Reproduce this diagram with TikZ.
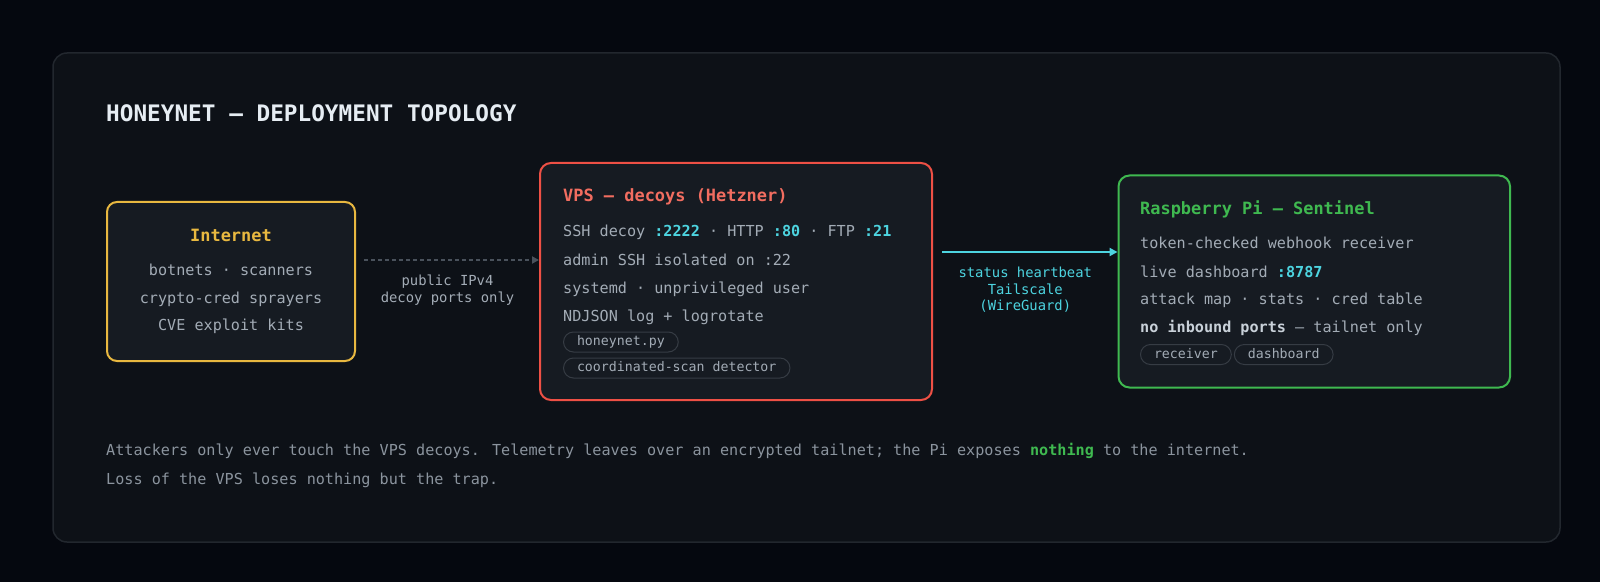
\documentclass[tikz,border=0pt]{standalone}
\usepackage{fontspec}
\setmainfont{DejaVu Sans Mono}
\usepackage{tikz}
\usetikzlibrary{arrows.meta,positioning}

\definecolor{bgc}{HTML}{05080F}
\definecolor{panelfill}{HTML}{0D1117}
\definecolor{panelline}{HTML}{22272E}
\definecolor{boxfill}{HTML}{161B22}
\definecolor{headc}{HTML}{E6EDF3}
\definecolor{inetc}{HTML}{E8B840}
\definecolor{vpsc}{HTML}{EE5045}
\definecolor{vpstitle}{HTML}{F26D60}
\definecolor{pic}{HTML}{3FB950}
\definecolor{cyanc}{HTML}{4DD4E0}
\definecolor{textc}{HTML}{A3ACB6}
\definecolor{strongc}{HTML}{C9D1D9}
\definecolor{notec}{HTML}{8B949E}
\definecolor{pillc}{HTML}{363C44}
\definecolor{dashc}{HTML}{4A525C}

\newcommand{\port}[1]{\textbf{\color{cyanc}#1}}

\begin{document}
\begin{tikzpicture}[x=1bp,y=-1bp,
  box/.style={draw,line width=2bp,fill=boxfill,rounded corners=11bp,inner sep=0pt},
  boxtitle/.style={font=\fontsize{17}{20}\selectfont\bfseries,inner sep=0pt,anchor=base west},
  txt/.style={font=\fontsize{15.2}{18}\selectfont,text=textc,inner sep=0pt,anchor=base west},
  pill/.style={draw=pillc,line width=1bp,rounded corners=10bp,minimum height=20bp,inner xsep=13.5bp,inner ysep=0pt,
    text height=9.5bp,text depth=2.5bp,font=\fontsize{13.3}{16}\selectfont,text=textc,anchor=west},
  flowlbl/.style={font=\fontsize{13.9}{16.5}\selectfont,align=center,inner sep=0pt},
  note/.style={font=\fontsize{15.2}{18}\selectfont,text=notec,inner sep=0pt,anchor=base west}]
 \path[use as bounding box,fill=bgc] (0,0) rectangle (1600,582);
 \draw[panelline,fill=panelfill,line width=1.5bp,rounded corners=14bp] (53,53) rectangle (1560,542);

 \node[anchor=base west,inner sep=0pt,text=headc,font=\fontsize{22.8}{26}\selectfont\bfseries] (title) at (106,122) {HONEYNET — DEPLOYMENT TOPOLOGY};

 % the three hosts
 \node[box,draw=inetc,minimum width=248bp,minimum height=159bp,rounded corners=10bp] (inet) at (231,281.5) {};
 \node[box,draw=vpsc,minimum width=392bp,minimum height=237bp] (vps) [right=183bp of inet] {};
 \node[box,draw=pic,minimum width=391.5bp,minimum height=212bp] (pi) [right=184.5bp of vps] {};

 \node[boxtitle,text=inetc,anchor=base] (inett) at (231,241) {Internet};
 \node[txt,anchor=base] (inet1) at (231,275) {botnets · scanners};
 \node[txt,anchor=base] (inet2) at (231,303) {crypto-cred sprayers};
 \node[txt,anchor=base] (inet3) at (231,330) {CVE exploit kits};

 \node[boxtitle,text=vpstitle] (vpst) at (563,202) {VPS — decoys (Hetzner)};
 \node[txt] (vps1) at (563,237) {SSH decoy \port{:2222} · HTTP \port{:80} · FTP \port{:21}};
 \node[txt] (vps2) at (563,265) {admin SSH isolated on :22};
 \node[txt] (vps3) at (563,293) {systemd · unprivileged user};
 \node[txt] (vps4) at (563,321) {NDJSON log + logrotate};
 \node[pill] (hpy) at (563,342) {honeynet.py};
 \node[pill] (csd) [below=5bp of hpy.south west,anchor=north west] {coordinated-scan detector};

 \node[boxtitle,text=pic] (pit) at (1140,215) {Raspberry Pi — Sentinel};
 \node[txt] (pi1) at (1140,248) {token-checked webhook receiver};
 \node[txt] (pi2) at (1140,277) {live dashboard \port{:8787}};
 \node[txt] (pi3) at (1140,304) {attack map · stats · cred table};
 \node[txt] (pi4) at (1140,332) {\textbf{\color{strongc}no inbound ports} — tailnet only};
 \node[pill] (rcv) at (1140,354.5) {receiver};
 \node[pill] (dsh) [right=2bp of rcv] {dashboard};

 % links
 \draw[dashc,line width=2bp,dash pattern=on 4bp off 3bp,-{Triangle[length=7bp,width=7bp]}]
  ([xshift=8bp,yshift=21.5bp]inet.east) -- ([yshift=21.5bp]vps.west)
  node[flowlbl,text=textc,midway,below=14bp,xshift=-4bp] {public IPv4\\decoy ports only};
 \draw[cyanc,line width=2.5bp,-{Triangle[length=8bp,width=8bp]}]
  ([xshift=9bp,yshift=29.5bp]vps.east) -- ([yshift=29.5bp]pi.west)
  node[flowlbl,text=cyanc,midway,below=14bp,xshift=-4.5bp] {status heartbeat\\Tailscale\\(WireGuard)};

 \node[note] (note1) at (106,455) {Attackers only ever touch the VPS decoys. Telemetry leaves over an encrypted tailnet; the Pi exposes \textbf{\color{pic}nothing} to the internet.};
 \node[note] (note2) at (106,484) {Loss of the VPS loses nothing but the trap.};
\end{tikzpicture}
\end{document}
